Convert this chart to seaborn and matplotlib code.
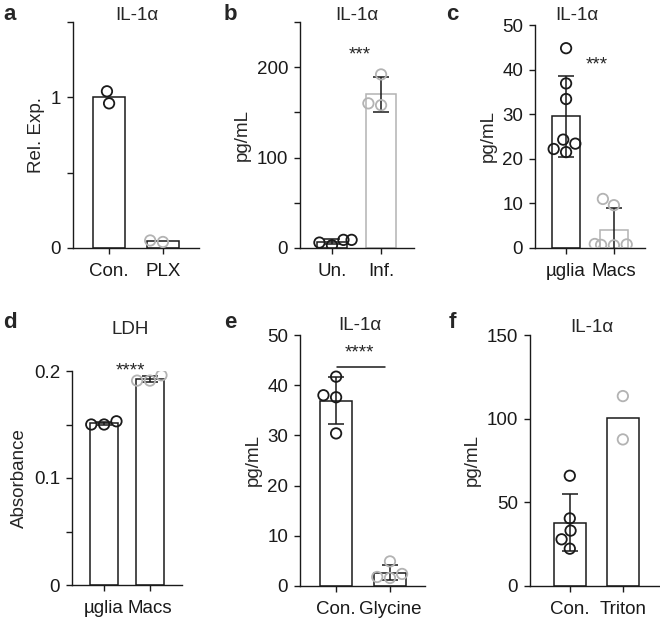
import numpy as np
import pandas as pd
import matplotlib
matplotlib.use("Agg")
import matplotlib.pyplot as plt
from matplotlib.ticker import MultipleLocator, FuncFormatter
import seaborn as sns

# values
a_cats = ["Con.", "PLX"]
a_con = [1.04, 0.96]
a_plx = [0.04, 0.05]

b_cats = ["Un.", "Inf."]
b_un = [3, 6, 9, 9]
b_inf = [158, 192, 160]

c_cats = ["µglia", "Macs"]
c_mg = [44.8, 36.9, 33.4, 24.3, 23.4, 22.2, 21.5]
c_macs = [11.0, 9.6, 0.8, 0.6, 0.7, 0.9]

d_cats = ["µglia", "Macs"]
d_mg = [0.150, 0.153, 0.150]
d_macs = [0.191, 0.196, 0.191]

e_cats = ["Con.", "Glycine"]
e_con = [38.0, 41.7, 37.6, 30.4]
e_gly = [1.8, 4.9, 2.4, 1.6]

f_cats = ["Con.", "Triton"]
f_con = [65.9, 40.4, 33.1, 27.9, 22.3]
f_tri = [113.5, 87.6]

BLACK = "#1a1a1a"
GRAY = "#b3b3b3"
W, H = 660, 623
FS = 13.5

sns.set_style("ticks")
plt.rcParams["font.family"] = ["Liberation Sans", "DejaVu Sans"]
plt.rcParams["axes.linewidth"] = 1.0
plt.rcParams["xtick.major.width"] = 1.0
plt.rcParams["ytick.major.width"] = 1.0
plt.rcParams["ytick.minor.width"] = 1.0
plt.rcParams["xtick.major.size"] = 4.5
plt.rcParams["ytick.major.size"] = 4.5
plt.rcParams["ytick.minor.size"] = 4.5
plt.rcParams["axes.edgecolor"] = BLACK
plt.rcParams["xtick.color"] = BLACK
plt.rcParams["ytick.color"] = BLACK

fig = plt.figure(figsize=(6.6, 6.23), dpi=100)


def px_axes(l, t, r, b):
    return fig.add_axes([l / W, 1 - b / H, (r - l) / W, (b - t) / H])


def panel(ax, cats, groups, bar_cols, pt_cols, sd_on, xlim, ylim, major, minor=None):
    df = pd.DataFrame({"grp": np.repeat(cats, [len(g) for g in groups]),
                       "val": np.concatenate(groups)})
    sns.barplot(data=df, x="grp", y="val", order=cats, errorbar=None, width=0.6,
                color="white", edgecolor=BLACK, linewidth=1.1, ax=ax, zorder=1)
    for p, c in zip(ax.patches, bar_cols):
        p.set_edgecolor(c)
    for i, g in enumerate(groups):
        if sd_on[i]:
            ax.errorbar(i, np.mean(g), yerr=np.std(g, ddof=1), color=BLACK, lw=1.1,
                        capsize=6, capthick=1.1, zorder=2)
    n0 = len(ax.collections)
    sns.swarmplot(data=df, x="grp", y="val", order=cats, hue="grp", hue_order=cats,
                  palette=dict(zip(cats, pt_cols)), legend=False, size=7.5, ax=ax, zorder=3)
    for coll, c in zip(ax.collections[n0:], pt_cols):
        coll.set_facecolor("none")
        coll.set_edgecolor(c)
        coll.set_linewidth(1.3)
    ax.set_xlim(*xlim)
    ax.set_ylim(*ylim)
    ax.yaxis.set_major_locator(MultipleLocator(major))
    ax.yaxis.set_major_formatter(FuncFormatter(lambda v, pos: f"{v:g}"))
    if minor:
        ax.yaxis.set_minor_locator(MultipleLocator(minor))
    ax.set_xlabel("")
    ax.tick_params(labelsize=FS, pad=4)
    ax.tick_params(axis="x", pad=6)
    sns.despine(ax=ax)


def ftext(x, y, s, **kw):
    fig.text(x / W, 1 - y / H, s, ha="center", va="center", **kw)


# a
ax = px_axes(73, 22, 199, 248)
panel(ax, a_cats, [a_con, a_plx], [BLACK, BLACK], [BLACK, GRAY], [False, False],
      (-0.67, 1.67), (0, 1.5), 1, 0.5)
ax.set_ylabel("Rel. Exp.", fontsize=FS)

# b
ax = px_axes(300, 22, 414, 248)
panel(ax, b_cats, [b_un, b_inf], [BLACK, GRAY], [BLACK, GRAY], [True, True],
      (-0.65, 1.67), (0, 250), 100, 50)
ax.set_ylabel("pg/mL", fontsize=FS)
ax.text(0.57, 213, "***", ha="center", va="center", fontsize=FS)

# c
ax = px_axes(535, 25, 645, 248)
panel(ax, c_cats, [c_mg, c_macs], [BLACK, GRAY], [BLACK, GRAY], [True, True],
      (-0.65, 1.65), (0, 50), 10)
ax.set_ylabel("pg/mL", fontsize=FS)
ax.text(0.65, 41, "***", ha="center", va="center", fontsize=FS)

# d
ax = px_axes(72, 371, 182, 585)
panel(ax, d_cats, [d_mg, d_macs], [BLACK, BLACK], [BLACK, GRAY], [True, True],
      (-0.7, 1.7), (0, 0.2), 0.1, 0.05)
ax.set_ylabel("Absorbance", fontsize=FS)
ax.text(0.57, 0.2, "****", ha="center", va="center", fontsize=FS, clip_on=False)

# e
ax = px_axes(300, 335, 425, 586)
panel(ax, e_cats, [e_con, e_gly], [BLACK, BLACK], [BLACK, GRAY], [True, True],
      (-0.67, 1.65), (0, 50), 10)
ax.set_ylabel("pg/mL", fontsize=FS)
ax.plot([0.02, 0.9], [43.7, 43.7], color=BLACK, lw=1.1)
ax.text(0.44, 46.5, "****", ha="center", va="center", fontsize=FS)

# f
ax = px_axes(530, 335, 660, 586)
panel(ax, f_cats, [f_con, f_tri], [BLACK, BLACK], [BLACK, GRAY], [True, False],
      (-0.75, 1.7), (0, 150), 50)
ax.set_ylabel("pg/mL", fontsize=FS)

# titles and panel letters
for x, y, s in [(137, 15, "IL-1α"), (357, 15, "IL-1α"), (577, 15, "IL-1α"),
                (130, 330, "LDH"), (360, 325, "IL-1α"), (592, 327, "IL-1α")]:
    ftext(x, y, s, fontsize=FS)
for x, y, s in [(10, 14, "a"), (230, 14, "b"), (452, 14, "c"),
                (10, 323, "d"), (230, 323, "e"), (452, 323, "f")]:
    ftext(x, y, s, fontsize=16, fontweight="bold")

fig.savefig("out.png", dpi=100)
